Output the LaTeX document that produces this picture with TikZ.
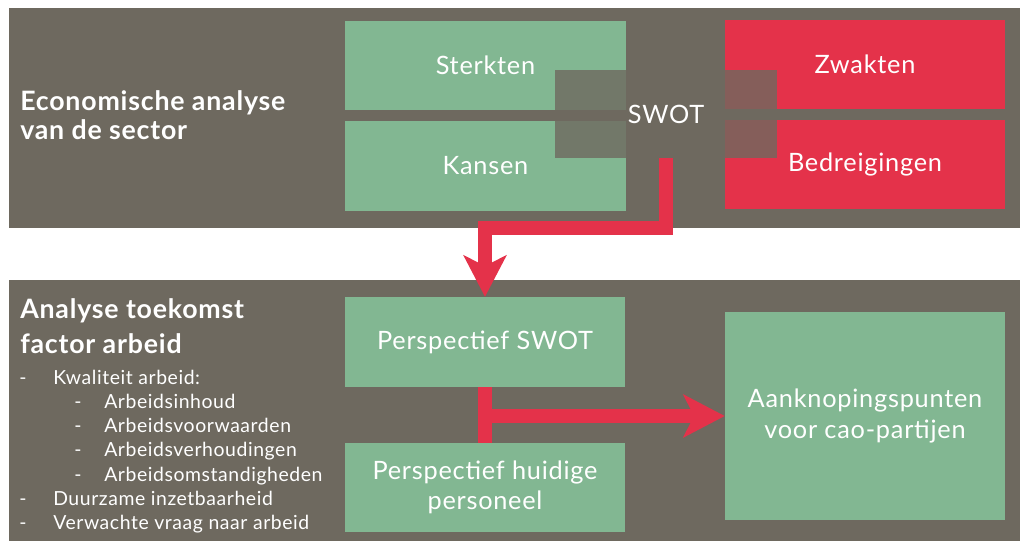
\documentclass[tikz,border=0pt]{standalone}
\usepackage{fontspec}
\setmainfont[LetterSpace=3]{Lato}
\usetikzlibrary{arrows.meta, positioning, calc}

\definecolor{paneel}{HTML}{6E695F}
\definecolor{groen}{HTML}{82B792}
\definecolor{rood}{HTML}{E4324A}

\tikzset{
  vak/.style={rectangle, inner sep=0pt, minimum width=7cm, minimum height=2.225cm,
    text=white, align=center, font=\fontsize{18}{21.5}\selectfont},
  groenvak/.style={vak, fill=groen},
  roodvak/.style={vak, fill=rood},
  kop/.style={anchor=base west, inner sep=0pt, text=white,
    font=\bfseries\fontsize{19}{22}\selectfont},
  lijst/.style={anchor=base west, inner sep=0pt, text=white,
    font=\fontsize{13.8}{16}\selectfont},
  balk/.style={draw=rood, line width=9.9pt},
  pijl/.style={balk, -{Stealth[length=29.8pt, width=31.2pt, inset=8pt, line width=0pt]}},
}

\begin{document}
\begin{tikzpicture}[x=0.025cm, y=-0.025cm]
  \useasboundingbox (0,0) rectangle (1020,545);

  % panelen
  \fill[paneel] (9,8) rectangle (1020,228);
  \fill[paneel] (9,280) rectangle (1020,541);

  \node[kop] (kop1a) at (20,110) {Economische analyse};
  \node[kop] (kop1b) at (20,140) {van de sector};
  \node[kop] (kop2a) at (20,318) {Analyse toekomst};
  \node[kop] (kop2b) at (20,353) {factor arbeid};

  % SWOT
  \node[groenvak] (sterkten) at (485.5,65.5) {Sterkten};
  \node[groenvak] (kansen) at (485.5,166) {Kansen};
  \node[roodvak] (zwakten) at (865,64.5) {Zwakten};
  \node[roodvak] (bedreigingen) at (865,164.5) {Bedreigingen};
  \node[vak, fill=paneel, fill opacity=0.8, text opacity=1,
    minimum width=5.55cm, minimum height=2.2cm] (swot) at (666,114) {SWOT};

  % onderste paneel
  \node[groenvak, minimum height=2.25cm] (pswot) at (485,342) {Perspectief SWOT};
  \node[groenvak] (phuidig) at (485,487.5) {Perspectief huidige\\personeel};
  \node[groenvak, minimum height=5.2cm] (aanknoping) at (865,416)
    {Aanknopingspunten\\voor cao-partijen};

  \foreach \xs/\xt/\tekst [count=\i] in {19/53/Kwaliteit arbeid:, 74/104/Arbeidsinhoud,
      74/104/Arbeidsvoorwaarden, 74/104/Arbeidsverhoudingen,
      74/104/Arbeidsomstandigheden, 19/53/Duurzame inzetbaarheid,
      19/53/Verwachte vraag naar arbeid} {
    \pgfmathsetmacro{\yy}{384+24.3*(\i-1)}
    \node[lijst] (streep\i) at (\xs,\yy) {-};
    \node[lijst] (punt\i) at (\xt,\yy) {\tekst};
  }

  % pijlen
  \draw[pijl] (swot.south) -- ++(0,70) -| (pswot.north);
  \draw[balk] (pswot.south) -- (phuidig.north);
  \draw[pijl] (pswot.south |- aanknoping.west) -- (aanknoping.west);

\end{tikzpicture}
\end{document}
